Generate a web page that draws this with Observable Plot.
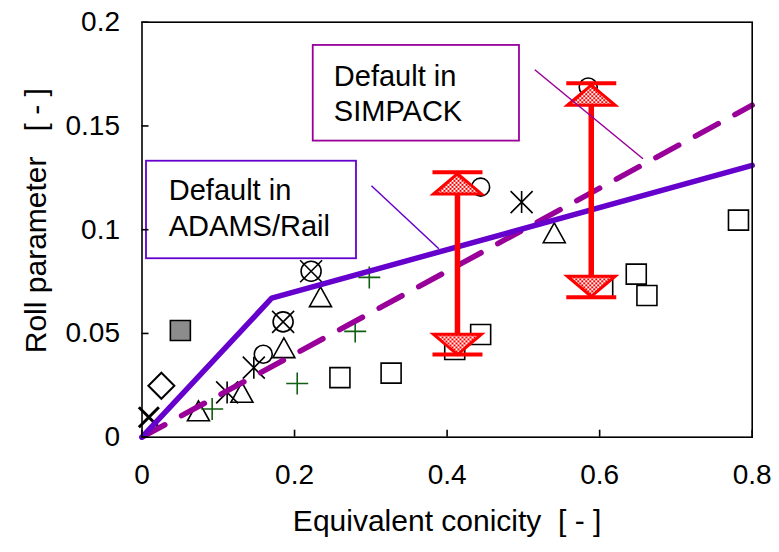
<!DOCTYPE html>
<html><head><meta charset="utf-8">
<script src="https://cdn.jsdelivr.net/npm/d3@7"></script>
<script src="https://cdn.jsdelivr.net/npm/@observablehq/plot@0.6"></script>
<style>
body{margin:0;background:#fff}
#chart svg text{white-space:pre}
</style>
</head><body><div id="chart"></div>
<script>
// ---- data ----
const xTicks = [0, 0.2, 0.4, 0.6, 0.8];
const xTickLabels = ["0", "0.2", "0.4", "0.6", "0.8"];
const yTicks = [0, 0.05, 0.1, 0.15, 0.2];
const yTickLabels = ["0", "0.05", "0.1", "0.15", "0.2"];
const xTitle = "Equivalent conicity  [ - ]";
const yTitle = "Roll parameter   [ - ]";

const adamsX = [0, 0.17, 0.8];
const adamsY = [0, 0.067, 0.131];
const simpackX = [0, 0.8];
const simpackY = [0, 0.16];

const squareX = [0.2595, 0.3266, 0.410, 0.444, 0.604, 0.648, 0.662, 0.782];
const squareY = [0.0287, 0.0309, 0.0423, 0.0495, 0.0718, 0.0786, 0.0683, 0.1046];
const graySquareX = [0.0503];
const graySquareY = [0.0514];
const diamondX = [0.0254];
const diamondY = [0.0248];
const triangleX = [0.074, 0.131, 0.186, 0.234, 0.5405];
const triangleY = [0.0127, 0.0216, 0.0431, 0.0677, 0.0985];
const circleX = [0.159, 0.444, 0.585];
const circleY = [0.040, 0.1205, 0.1688];
const asteriskX = [0.1116, 0.1466, 0.4977];
const asteriskY = [0.0216, 0.0335, 0.1133];
const circleCrossX = [0.185, 0.2217];
const circleCrossY = [0.0556, 0.080];
const plusX = [0.092, 0.2035, 0.2795, 0.298];
const plusY = [0.0136, 0.0259, 0.051, 0.077];
const boldCrossX = [0.009];
const boldCrossY = [0.0096];

const barX = [0.4136, 0.589];
const barLow = [0.0399, 0.0675];
const barHigh = [0.1277, 0.1706];
const barUpTriY = [0.1221, 0.1648];
const barDownTriY = [0.0447, 0.0727];

const noteNames = ["SIMPACK", "ADAMS"];
const noteColors = ["#990099", "#6600cc"];
const noteX1 = [0.2245, 0.0059];
const noteX2 = [0.4949, 0.2812];
const noteY1 = [0.1427, 0.0860];
const noteY2 = [0.1888, 0.1330];
const noteTextX = [0.2515, 0.0351];
const noteLine1 = ["Default in", "Default in"];
const noteLine1Y = [0.1737, 0.1187];
const noteLine2 = ["SIMPACK", "ADAMS/Rail"];
const noteLine2Y = [0.1568, 0.1013];
const leaderX1 = [0.515, 0.3008];
const leaderY1 = [0.1771, 0.1212];
const leaderX2 = [0.6568, 0.3892];
const leaderY2 = [0.1342, 0.0908];

// ---- helpers ----
const pts = (xs, ys) => xs.map((x, i) => ({x, y: ys[i]}));
const adams = pts(adamsX, adamsY);
const simpack = pts(simpackX, simpackY);
const bars = barX.map((x, i) => ({x, lo: barLow[i], hi: barHigh[i], up: barUpTriY[i], down: barDownTriY[i]}));
const notes = noteNames.map((n, i) => ({
  color: noteColors[i], x1: noteX1[i], x2: noteX2[i], y1: noteY1[i], y2: noteY2[i],
  tx: noteTextX[i], t1: noteLine1[i], t1y: noteLine1Y[i], t2: noteLine2[i], t2y: noteLine2Y[i],
  lx1: leaderX1[i], ly1: leaderY1[i], lx2: leaderX2[i], ly2: leaderY2[i]
}));

const rad = size => Math.sqrt(size / Math.PI);
const asteriskSym = {draw(c, s) { const r = rad(s);
  c.moveTo(0, -r); c.lineTo(0, r); c.moveTo(-r, -r); c.lineTo(r, r); c.moveTo(-r, r); c.lineTo(r, -r); }};
const crossSym = {draw(c, s) { const r = rad(s);
  c.moveTo(-r, -r); c.lineTo(r, r); c.moveTo(-r, r); c.lineTo(r, -r); }};
const plusSym = {draw(c, s) { const r = rad(s);
  c.moveTo(-r, 0); c.lineTo(r, 0); c.moveTo(0, -r); c.lineTo(0, r); }};
const squareSym = {draw(c, s) { const r = rad(s); c.rect(-r, -r, 2 * r, 2 * r); }};
const diamondSym = {draw(c, s) { const r = rad(s);
  c.moveTo(0, -r); c.lineTo(r, 0); c.lineTo(0, r); c.lineTo(-r, 0); c.closePath(); }};
const triSym = {draw(c, s) { const r = rad(s); const h = r * 0.9;
  c.moveTo(0, -h); c.lineTo(r, h); c.lineTo(-r, h); c.closePath(); }};
const flatUp = {draw(c, s) { const r = rad(s); const h = r * 0.42;
  c.moveTo(0, -h); c.lineTo(r, h); c.lineTo(-r, h); c.closePath(); }};
const flatDown = {draw(c, s) { const r = rad(s); const h = r * 0.42;
  c.moveTo(0, h); c.lineTo(r, -h); c.lineTo(-r, -h); c.closePath(); }};
const hline = {draw(c, s) { const r = rad(s); c.moveTo(-r, 0); c.lineTo(r, 0); }};

const open = {stroke: "black", strokeWidth: 1.6, fill: "none"};

const chart = Plot.plot({
  width: 779,
  height: 552,
  marginLeft: 141.5,
  marginRight: 27.3,
  marginTop: 21.7,
  marginBottom: 115.3,
  style: {fontFamily: "'Liberation Sans', Arial, sans-serif", background: "white", color: "black", overflow: "visible"},
  x: {domain: [0, 0.8]},
  y: {domain: [0, 0.2]},
  marks: [
    // markers
    Plot.dot(pts(squareX, squareY), {x: "x", y: "y", symbol: squareSym, r: 10, ...open}),
    Plot.dot(pts(graySquareX, graySquareY), {x: "x", y: "y", symbol: squareSym, r: 10, stroke: "black", strokeWidth: 1.6, fill: "#8c8c8c"}),
    Plot.dot(pts(diamondX, diamondY), {x: "x", y: "y", symbol: diamondSym, r: 13, ...open, strokeWidth: 2}),
    Plot.dot(pts(triangleX, triangleY), {x: "x", y: "y", symbol: triSym, r: 11, ...open}),
    Plot.dot(pts(circleX, circleY), {x: "x", y: "y", symbol: "circle", r: 9, ...open}),
    Plot.dot(pts(asteriskX, asteriskY), {x: "x", y: "y", symbol: asteriskSym, r: 11, ...open}),
    Plot.dot(pts(circleCrossX, circleCrossY), {x: "x", y: "y", symbol: "circle", r: 10, ...open}),
    Plot.dot(pts(circleCrossX, circleCrossY), {x: "x", y: "y", symbol: crossSym, r: 11, ...open}),
    Plot.dot(pts(plusX, plusY), {x: "x", y: "y", symbol: plusSym, r: 11, stroke: "#125e12", strokeWidth: 1.6}),
    Plot.dot(pts(boldCrossX, boldCrossY), {x: "x", y: "y", symbol: crossSym, r: 10, stroke: "black", strokeWidth: 3}),
    // model lines
    Plot.line(simpack, {x: "x", y: "y", stroke: "#990099", strokeWidth: 5.5, strokeDasharray: "26,19"}),
    Plot.line(adams, {x: "x", y: "y", stroke: "#6600cc", strokeWidth: 5.5, strokeLinejoin: "miter"}),
    // red ranges
    Plot.ruleX(bars, {x: "x", y1: "lo", y2: "hi", stroke: "#ff0000", strokeWidth: 5.5}),
    Plot.dot(bars, {x: "x", y: "up", symbol: flatUp, r: 24, stroke: "#ff0000", strokeWidth: 3, fill: "url(#checker)"}),
    Plot.dot(bars, {x: "x", y: "down", symbol: flatDown, r: 24, stroke: "#ff0000", strokeWidth: 3, fill: "url(#checker)"}),
    Plot.dot(bars, {x: "x", y: "hi", symbol: hline, r: 25, stroke: "#ff0000", strokeWidth: 4}),
    Plot.dot(bars, {x: "x", y: "lo", symbol: hline, r: 25, stroke: "#ff0000", strokeWidth: 4}),
    // annotation boxes
    Plot.rect(notes, {x1: "x1", x2: "x2", y1: "y1", y2: "y2", fill: "white", stroke: "color", strokeWidth: 1.8}),
    Plot.text(notes, {x: "tx", y: "t1y", text: "t1", textAnchor: "start", fontSize: 29, fill: "black"}),
    Plot.text(notes, {x: "tx", y: "t2y", text: "t2", textAnchor: "start", fontSize: 29, fill: "black"}),
    Plot.link(notes, {x1: "lx1", y1: "ly1", x2: "lx2", y2: "ly2", stroke: "color", strokeWidth: 1.5}),
    // frame & axes
    Plot.frame({stroke: "black", strokeWidth: 1.6}),
    Plot.axisX(xTicks, {tickSize: -7, tickFormat: () => "", strokeWidth: 1.6}),
    Plot.axisY(yTicks, {tickSize: -7, tickFormat: () => "", strokeWidth: 1.6}),
    Plot.axisX(xTicks, {tickSize: 0, tickPadding: 27, fontSize: 28, tickFormat: (d, i) => xTickLabels[i], label: null}),
    Plot.axisY(yTicks, {tickSize: 0, tickPadding: 22, fontSize: 28, tickFormat: (d, i) => yTickLabels[i], label: null}),
    // axis titles
    Plot.text([xTitle], {frameAnchor: "bottom", text: d => d, dy: 94, fontSize: 30, fill: "black"}),
    Plot.text([yTitle], {frameAnchor: "left", text: d => d, textAnchor: "middle", dx: -106, dy: -9, rotate: -90, fontSize: 30, fill: "black"})
  ]
});

// checkered fill pattern for the red markers
const svg = d3.select(chart);
const defs = svg.insert("defs", ":first-child");
const pat = defs.append("pattern").attr("id", "checker").attr("patternUnits", "userSpaceOnUse")
  .attr("width", 4).attr("height", 4);
pat.append("rect").attr("width", 4).attr("height", 4).attr("fill", "white");
pat.append("rect").attr("width", 2).attr("height", 2).attr("fill", "#ff0000");
pat.append("rect").attr("x", 2).attr("y", 2).attr("width", 2).attr("height", 2).attr("fill", "#ff0000");

document.getElementById("chart").append(chart);
</script>
</body></html>
